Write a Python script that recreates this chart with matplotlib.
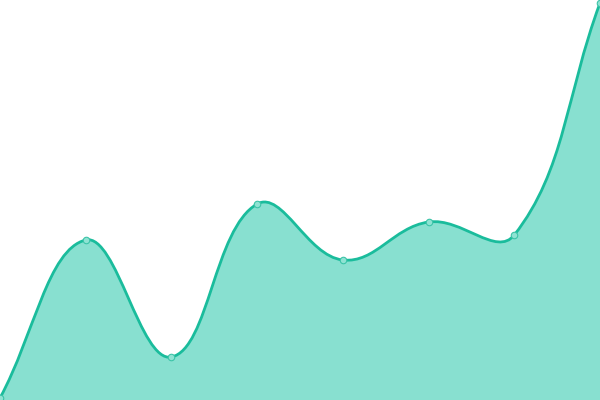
import numpy as np
import matplotlib
matplotlib.use("Agg")
import matplotlib.pyplot as plt
from matplotlib.path import Path
from matplotlib.patches import PathPatch

categories = list(range(8))
values = [2, 160, 43, 196, 140, 178, 165, 397]

XMAX, YMAX = 7, 400
W, H = 600, 400

def spline_path(x, y, tension=0.4):
    # Work in pixel space for distances
    px = np.asarray(x, float) * W / XMAX
    py = np.asarray(y, float) * H / YMAX
    n = len(px)
    cp_prev = np.zeros((n, 2)); cp_next = np.zeros((n, 2))
    for i in range(n):
        cur = np.array([px[i], py[i]])
        prev = np.array([px[i-1], py[i-1]]) if i > 0 else cur
        nxt = np.array([px[i+1], py[i+1]]) if i < n - 1 else cur
        d01 = np.hypot(*(cur - prev)); d12 = np.hypot(*(nxt - cur))
        tot = d01 + d12
        s01 = d01 / tot if tot else 0; s12 = d12 / tot if tot else 0
        fa = tension * s01; fb = tension * s12
        cp_prev[i] = cur - fa * (nxt - prev)
        cp_next[i] = cur + fb * (nxt - prev)
    cp_prev[:, 0] = np.clip(cp_prev[:, 0], 0, W); cp_next[:, 0] = np.clip(cp_next[:, 0], 0, W)
    cp_prev[:, 1] = np.clip(cp_prev[:, 1], 0, H); cp_next[:, 1] = np.clip(cp_next[:, 1], 0, H)
    sc = np.array([XMAX / W, YMAX / H])
    verts = [(px[0] * sc[0], py[0] * sc[1])]
    codes = [Path.MOVETO]
    for i in range(n - 1):
        verts += [tuple(cp_next[i] * sc), tuple(cp_prev[i+1] * sc), (px[i+1] * sc[0], py[i+1] * sc[1])]
        codes += [Path.CURVE4] * 3
    return verts, codes

fig = plt.figure(figsize=(6, 4), dpi=100)
ax = fig.add_axes([0, 0, 1, 1])
verts, codes = spline_path(categories, values)
fill_verts = verts + [(categories[-1], 0), (categories[0], 0), verts[0]]
fill_codes = codes + [Path.LINETO, Path.LINETO, Path.CLOSEPOLY]
ax.add_patch(PathPatch(Path(fill_verts, fill_codes), facecolor="#88e0d0", lw=0))
ax.add_patch(PathPatch(Path(verts, codes), facecolor="none", edgecolor="#1abc9c", lw=2))
ax.scatter(categories, values, s=22, facecolor="#8fe3d3", edgecolor="#3cc4a8", linewidth=0.8, zorder=5, clip_on=False)
ax.set_xlim(0, XMAX)
ax.set_ylim(0, YMAX)
ax.axis("off")
fig.savefig("out.png", dpi=100)
